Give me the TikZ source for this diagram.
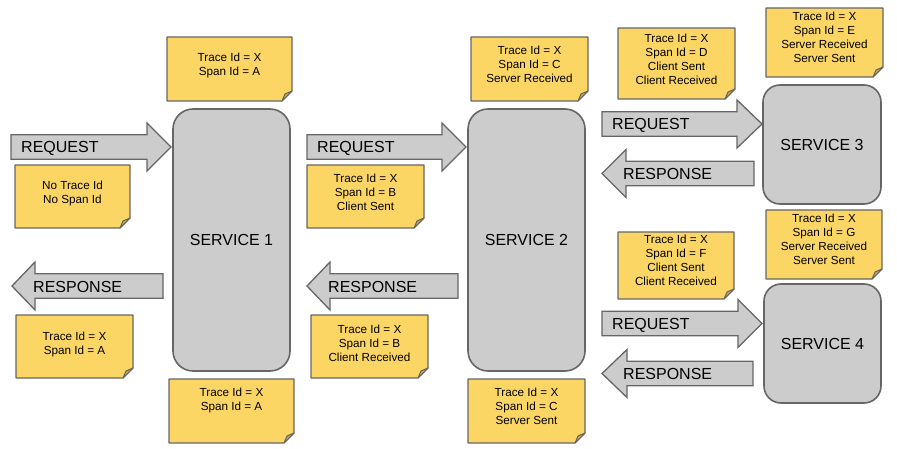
\documentclass[tikz,border=0pt]{standalone}
\usepackage{fontspec}
\setmainfont{Liberation Sans}
\definecolor{notefill}{HTML}{FCD664}
\definecolor{notefold}{HTML}{C9A94C}
\definecolor{boxfill}{HTML}{CCCCCC}
\definecolor{edge}{HTML}{666666}
\tikzset{
  service/.style={draw=edge, fill=boxfill, line width=1.6pt, rounded corners=#1,
    font=\fontsize{16}{19}\selectfont, text=black},
  service/.default=20pt,
  notebody/.style={draw=edge, fill=notefill, line width=1.3pt, line join=round},
  notecorner/.style={draw=edge, fill=notefold, line width=1pt, line join=round},
  notetext/.style={anchor=north, inner sep=0pt, align=center,
    font=\fontsize{11.7}{14}\selectfont},
  blockarrow/.style={draw=edge, fill=boxfill, line width=1.3pt, line join=miter},
  arrowlabel/.style={anchor=base west, inner sep=0pt, font=\fontsize{16}{19}\selectfont},
}
% sticky note: name, left, top, right, bottom, centre of first text line, text
\newcommand\stickynote[7]{%
  \draw[notebody] (#2,#3) -- (#4,#3) -- (#4,#5-10) -- (#4-10,#5) -- (#2,#5) -- cycle;
  \draw[notecorner] (#4,#5-10) -- (#4-10,#5) .. controls (#4-9,#5-4) .. (#4-7,#5-7) -- cycle;
  \node[notetext] (#1) at ({(#2+#4)/2},#6-4.3) {#7};
}
% block arrow pointing right: name, left end, head base, tip, centre line
\newcommand\rightblock[5]{%
  \draw[blockarrow] (#2,#5-12.3) -- (#3,#5-12.3) -- (#3,#5-24) -- (#4,#5)
    -- (#3,#5+24) -- (#3,#5+12.3) -- (#2,#5+12.3) -- cycle;
  \coordinate (#1) at (#4,#5);
}
% block arrow pointing left: name, tip, head base, right end, centre line
\newcommand\leftblock[5]{%
  \draw[blockarrow] (#4,#5-12.3) -- (#3,#5-12.3) -- (#3,#5-24) -- (#2,#5)
    -- (#3,#5+24) -- (#3,#5+12.3) -- (#4,#5+12.3) -- cycle;
  \coordinate (#1) at (#2,#5);
}
\begin{document}
\begin{tikzpicture}[x=1pt,y=-1pt]
\useasboundingbox (0,0) rectangle (897,449);

% services
\node[service, minimum width=117pt, minimum height=262pt] (s1) at (231.5,240) {SERVICE 1};
\node[service, minimum width=117pt, minimum height=262pt] (s2) at (526.5,240) {SERVICE 2};
\node[service=17pt, minimum width=118pt, minimum height=119pt] (s3) at (822,144.5) {SERVICE 3};
\node[service=17pt, minimum width=117pt, minimum height=119pt] (s4) at (822.5,343.5) {SERVICE 4};

% request / response arrows (labels sit on the baseline, 6pt below the centre line)
\rightblock{req1}{11}{147}{171}{147}
\node[arrowlabel] (lreq1) at (21,153) {REQUEST};
\leftblock{res1}{12}{35}{163}{286}
\node[arrowlabel] (lres1) at (33,292) {RESPONSE};

\rightblock{req2}{307}{442}{466}{147}
\node[arrowlabel] (lreq2) at (317,153) {REQUEST};
\leftblock{res2}{307}{330}{458}{286}
\node[arrowlabel] (lres2) at (328,292) {RESPONSE};

\rightblock{req3}{602}{737}{762}{124}
\node[arrowlabel] (lreq3) at (612,130) {REQUEST};
\leftblock{res3}{602}{626}{754}{173.5}
\node[arrowlabel] (lres3) at (623,179.5) {RESPONSE};

\rightblock{req4}{602}{738}{762}{323.5}
\node[arrowlabel] (lreq4) at (612,329.5) {REQUEST};
\leftblock{res4}{602}{627}{753}{373.5}
\node[arrowlabel] (lres4) at (623,379.5) {RESPONSE};

% sticky notes
\stickynote{na}{167}{37}{292}{101}{57}{Trace Id = X\\Span Id = A}
\stickynote{nnone}{15}{165}{130}{228}{185}{No Trace Id\\No Span Id}
\stickynote{naout}{16}{315}{133}{378}{336}{Trace Id = X\\Span Id = A}
\stickynote{nabot}{169}{379}{294}{443}{392}{Trace Id = X\\Span Id = A}

\stickynote{nc}{471}{37}{588}{101}{50}{Trace Id = X\\Span Id = C\\Server Received}
\stickynote{nbcs}{307}{165}{424}{228}{178}{Trace Id = X\\Span Id = B\\Client Sent}
\stickynote{nbcr}{311}{315}{428}{378}{329}{Trace Id = X\\Span Id = B\\Client Received}
\stickynote{ncbot}{468}{379}{585}{443}{392}{Trace Id = X\\Span Id = C\\Server Sent}

\stickynote{nd}{618}{28}{735}{99}{38}{Trace Id = X\\Span Id = D\\Client Sent\\Client Received}
\stickynote{ne}{766}{8}{883}{77}{16}{Trace Id = X\\Span Id = E\\Server Received\\Server Sent}
\stickynote{nf}{618}{232}{734}{299}{239}{Trace Id = X\\Span Id = F\\Client Sent\\Client Received}
\stickynote{ng}{766}{210}{882}{279}{218}{Trace Id = X\\Span Id = G\\Server Received\\Server Sent}
\end{tikzpicture}
\end{document}
